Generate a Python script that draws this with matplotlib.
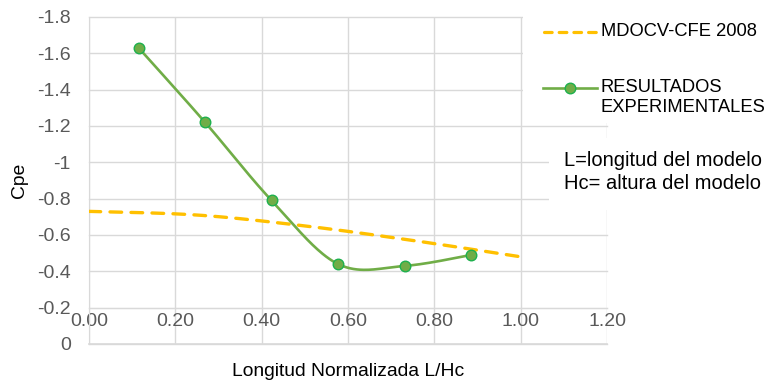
import numpy as np
import matplotlib
matplotlib.use("Agg")
import matplotlib.pyplot as plt
from matplotlib.lines import Line2D
from matplotlib.patches import Rectangle
from matplotlib.ticker import FuncFormatter

plt.rcParams['font.family'] = ['Liberation Sans', 'DejaVu Sans']

# ---- data ----
norma_x = [0.0, 0.25, 0.50, 0.75, 1.00]
norma_cpe = [-0.73, -0.71, -0.65, -0.57, -0.48]

exp_x = [0.115, 0.269, 0.423, 0.577, 0.731, 0.885]
exp_cpe = [-1.63, -1.22, -0.79, -0.44, -0.43, -0.49]

series_names = ["MDOCV-CFE 2008", "RESULTADOS\nEXPERIMENTALES"]
note_lines = ["L=longitud del modelo", "Hc= altura del modelo"]
x_ticks = [0.0, 0.2, 0.4, 0.6, 0.8, 1.0, 1.2]
y_ticks = [0.0, -0.2, -0.4, -0.6, -0.8, -1.0, -1.2, -1.4, -1.6, -1.8]
x_title = "Longitud Normalizada L/Hc"
y_title = "Cpe"

GOLD = "#FFC000"
GREEN = "#70AD47"
GREEN_EDGE = "#1DB04E"
GRID = "#D9D9D9"
TICK = "#595959"


def smooth(xs, ys, n=40):
    """Piecewise cubic Bezier through the points (Catmull-Rom tangents)."""
    p = np.column_stack([xs, ys]).astype(float)
    m = len(p)
    out = []
    for i in range(m - 1):
        p0, p3 = p[i], p[i + 1]
        prev = p[i - 1] if i > 0 else p[i]
        nxt = p[i + 2] if i + 2 < m else p[i + 1]
        c1 = p0 + (p3 - prev) / 6.0
        c2 = p3 - (nxt - p0) / 6.0
        t = np.linspace(0, 1, n)[:, None]
        seg = ((1 - t) ** 3) * p0 + 3 * ((1 - t) ** 2) * t * c1 \
            + 3 * (1 - t) * t ** 2 * c2 + t ** 3 * p3
        out.append(seg if i == 0 else seg[1:])
    s = np.vstack(out)
    return s[:, 0], s[:, 1]


W, H = 770, 386
fig = plt.figure(figsize=(W / 100, H / 100), dpi=100)
L, R, T, B = 89, 607, 17, 344
ax = fig.add_axes([L / W, 1 - B / H, (R - L) / W, (B - T) / H])

ax.set_xlim(0, 1.2)
ax.set_ylim(0, -1.8)
ax.set_xticks(x_ticks)
ax.set_yticks(y_ticks)
ax.xaxis.set_major_formatter(FuncFormatter(lambda v, _: f"{v:.2f}"))
ax.yaxis.set_major_formatter(FuncFormatter(lambda v, _: f"{round(v, 1):g}" if abs(v) > 1e-9 else "0"))

ax.grid(True, color=GRID, lw=1.0)
for gl in ax.get_xgridlines() + ax.get_ygridlines():
    gl.set_clip_on(False)
ax.set_axisbelow(True)

for s in ("top", "right"):
    ax.spines[s].set_visible(False)
ax.spines["left"].set_color(GRID)
ax.spines["bottom"].set_position(("data", -0.2))
ax.spines["bottom"].set_color(GRID)
ax.axhline(0, color=GRID, lw=1.2, clip_on=False, zorder=1)

ax.tick_params(axis="both", length=0, labelsize=14, labelcolor=TICK)
ax.tick_params(axis="y", pad=13)
ax.tick_params(axis="x", pad=4)

# standard curve (dashed) and experimental results (smoothed with markers)
sx, sy = smooth(norma_x, norma_cpe)
ax.plot(sx, sy, color=GOLD, lw=2.4, dashes=(3.5, 2.8),
        dash_capstyle="round", zorder=3)

ex, ey = smooth(exp_x, exp_cpe)
ax.plot(ex, ey, color=GREEN, lw=1.9, solid_capstyle="round", zorder=4)
ax.plot(exp_x, exp_cpe, ls="none", marker="o", ms=7.6, mfc=GREEN,
        mec=GREEN_EDGE, mew=1.0, zorder=5, clip_on=False)

ax.set_xlabel(x_title, fontsize=13.9, color="black")
ax.xaxis.set_label_coords(0.5, -0.058)
ax.set_ylabel(y_title, fontsize=13.9, color="black")
ax.yaxis.set_label_coords(-0.118, 0.5)

# legend panel and note panel sit on white boxes over the plot area
fig.add_artist(Rectangle((523 / W, 1 - 123 / H), (W - 523) / W, 123 / H,
                         transform=fig.transFigure, facecolor="white",
                         edgecolor="none", zorder=5))
fig.add_artist(Rectangle((549 / W, 1 - 210 / H), (W - 549) / W, 72 / H,
                         transform=fig.transFigure, facecolor="white",
                         edgecolor="none", zorder=5))

def fx(px):
    return px / W

def fy(py):
    return 1 - py / H

fig.add_artist(Line2D([fx(544), fx(596)], [fy(32), fy(32)], color=GOLD, lw=2.3,
                      dashes=(2.4, 2.2), dash_capstyle="round",
                      transform=fig.transFigure, zorder=6))
fig.text(fx(601), fy(31.5), series_names[0], fontsize=13.2, color="black",
         ha="left", va="center", zorder=6)

fig.add_artist(Line2D([fx(543), fx(597)], [fy(88), fy(88)], color=GREEN, lw=1.9,
                      transform=fig.transFigure, zorder=6))
fig.add_artist(Line2D([fx(570)], [fy(88)], ls="none", marker="o", ms=7.6,
                      mfc=GREEN, mec=GREEN_EDGE, mew=1.0,
                      transform=fig.transFigure, zorder=7))
fig.text(fx(601), fy(97.5), series_names[1], fontsize=13.2, color="black",
         ha="left", va="center", linespacing=1.17, zorder=6)

fig.text(fx(564), fy(172), "\n".join(note_lines), fontsize=14.5, color="black",
         ha="left", va="center", linespacing=1.27, zorder=6)

fig.savefig("out.png", dpi=100)
